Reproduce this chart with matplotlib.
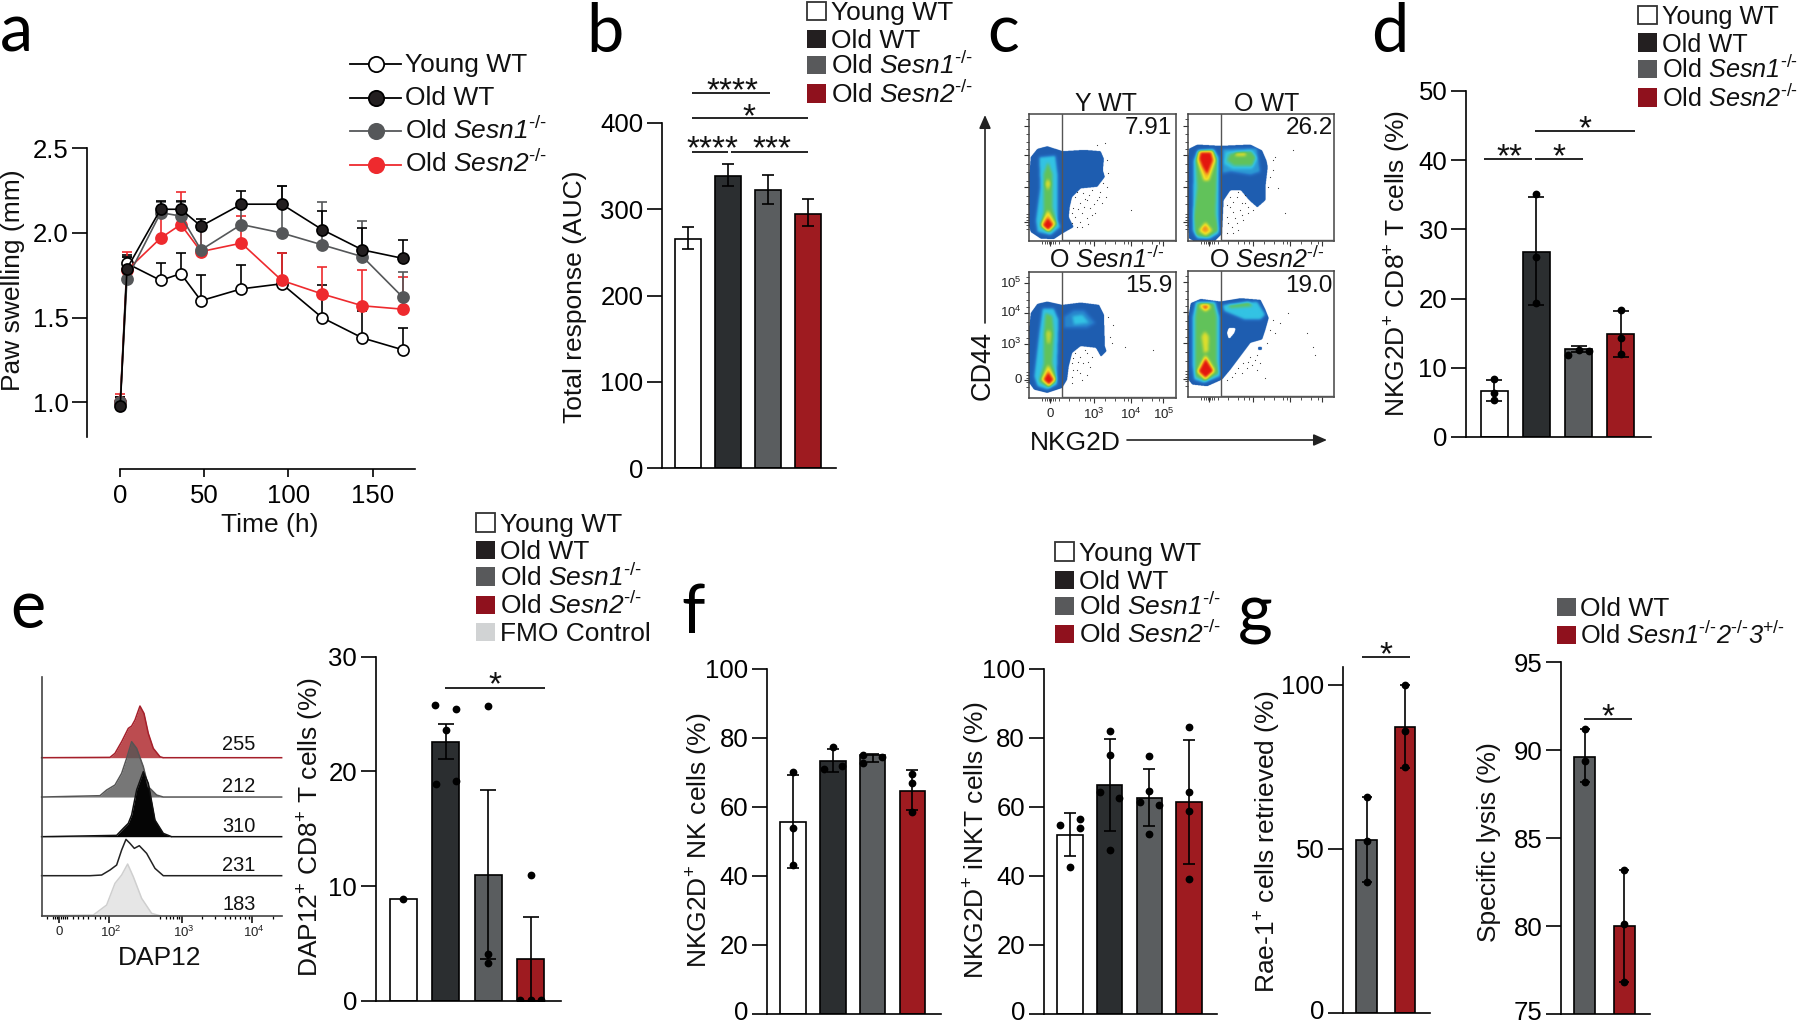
import numpy as np
import matplotlib
matplotlib.use('Agg')
import matplotlib.pyplot as plt
from matplotlib.colors import LinearSegmentedColormap
from matplotlib.path import Path
from matplotlib.patches import Rectangle
from matplotlib.transforms import ScaledTranslation

plt.rcParams['font.family'] = ['Liberation Sans', 'DejaVu Sans']
plt.rcParams['mathtext.fontset'] = 'custom'
plt.rcParams['mathtext.rm'] = 'Liberation Sans'
plt.rcParams['mathtext.it'] = 'Liberation Sans:italic'
plt.rcParams['mathtext.sf'] = 'Liberation Sans:italic'
plt.rcParams['mathtext.bf'] = 'Liberation Sans:bold'
plt.rcParams['mathtext.default'] = 'regular'

W, H = 1800, 1024
WHITE, DARK, GRAY, RED = '#ffffff', '#2b2e30', '#5a5d5f', '#9e1b20'
BAR4 = [WHITE, DARK, GRAY, RED]
BAR2 = [GRAY, RED]
SW = {'w': '#ffffff', 'k': '#231f20', 'g': '#58595b', 'r': '#8f111d', 'f': '#d1d3d4'}

L_YOUNG = 'Young WT'
L_OLD = 'Old WT'
L_S1 = r'Old $\mathsf{Sesn1}^{\text{-/-}}$'
L_S2 = r'Old $\mathsf{Sesn2}^{\text{-/-}}$'

# panel a
time_h = [0, 4, 24, 36, 48, 72, 96, 120, 144, 168]
young_mean = [1.0, 1.82, 1.72, 1.76, 1.60, 1.67, 1.70, 1.50, 1.38, 1.31]
young_top = [1.03, 1.87, 1.82, 1.88, 1.75, 1.81, 1.88, 1.69, 1.54, 1.44]
old_mean = [0.98, 1.79, 2.14, 2.14, 2.04, 2.17, 2.17, 2.02, 1.90, 1.85]
old_top = [1.03, 1.86, 2.19, 2.19, 2.08, 2.25, 2.28, 2.13, 2.03, 1.96]
s1_mean = [1.0, 1.73, 2.12, 2.10, 1.90, 2.05, 2.00, 1.93, 1.86, 1.62]
s1_top = [1.03, 1.86, 2.18, 2.18, 2.02, 2.15, 2.28, 2.18, 2.07, 1.77]
s2_mean = [1.0, 1.78, 1.97, 2.05, 1.89, 1.94, 1.72, 1.64, 1.57, 1.55]
s2_top = [1.05, 1.89, 2.14, 2.24, 2.06, 2.10, 1.88, 1.80, 1.78, 1.74]

# panel b
auc = [266, 339, 322, 295]
auc_lo = [253.6, 327, 306, 280.7]
auc_hi = [280, 353, 340, 312]

# panel d
d_val = [6.65, 26.8, 12.67, 14.84]
d_lo = [5.2, 19.07, 12.3, 11.6]
d_hi = [8.24, 34.7, 13.1, 18.2]
d_pts = [[8.33, 6.3, 5.35], [35.1, 26, 19.4], [11.85, 12.6, 12.5], [18.35, 14.26, 12]]
d_off = [[0, 0, 0], [0, 0, 0], [-0.24, 0, 0.24], [0, 0, 0]]

# panel e bars
e_val = [8.86, 22.57, 11.0, 3.63]
e_lo = [np.nan, 21.1, 3.7, 0]
e_hi = [np.nan, 24.1, 18.4, 7.35]
e_pts = [[8.9], [25.8, 25.4, 23.6, 18.9, 19.2], [25.7, 4.1, 3.3], [11, 0.1, 0.1, 0.1]]
e_off = [[0], [-0.25, 0.24, 0, -0.24, 0.24], [0, 0, 0], [0, -0.25, 0, 0.25]]

# panel f
nk_val = [55.6, 73.2, 74.9, 64.7]
nk_lo = [42.2, 70, 72.9, 59.1]
nk_hi = [69.2, 76.8, 75.4, 70.7]
nk_pts = [[70, 53.8, 43.2], [77.3, 70.9, 71.7], [75.1, 72.7, 74.4], [69.5, 66.9, 58.4]]
nk_off = [[0, 0, 0], [0, -0.235, 0.235], [-0.235, -0.235, 0.235], [0, 0, 0]]
inkt_val = [51.7, 66.2, 62.5, 61.3]
inkt_lo = [45.7, 53.1, 54.5, 43.4]
inkt_hi = [58.3, 79.6, 70.9, 79.4]
inkt_pts = [[42.5, 54.8, 56.4, 53.8], [82, 75, 47.6, 64.3, 62.5],
            [74.7, 64.5, 61.4, 60.5, 52.2], [83, 64.2, 58.8, 39.1]]
inkt_off = [[0, -0.24, 0.24, 0.24], [0, 0, 0, -0.235, 0.235],
            [0, 0, -0.235, 0.235, 0], [0, 0, 0, 0]]

# panel g
rae_val = [52.7, 87]
rae_lo = [39.8, 74.5]
rae_hi = [65.7, 100]
rae_pts = [[65.7, 52.5, 39.9], [100, 86, 75]]
lysis_val = [89.6, 80]
lysis_lo = [88.2, 76.8]
lysis_hi = [91.2, 83.2]
lysis_pts = [[91.2, 89.4, 88.2], [83.2, 80.1, 76.8]]

# panel e histograms
hist_red = [(125, 773), (330, 772), (345, 760), (365, 725), (385, 685), (395, 678), (405, 660), (420, 618),
            (432, 640), (445, 700), (460, 745), (480, 770), (490, 773), (845, 773)]
hist_gray = [(125, 891), (300, 887), (320, 870), (345, 855), (365, 820), (380, 775), (395, 725), (410, 745),
             (430, 800), (445, 860), (470, 885), (490, 891), (845, 891)]
hist_black = [(125, 1010), (350, 1006), (370, 985), (385, 970), (395, 945), (410, 870), (430, 815), (445, 850),
              (465, 960), (490, 1000), (515, 1010), (845, 1010)]
hist_open = [(125, 1127), (270, 1127), (305, 1125), (330, 1110), (350, 1095), (365, 1050), (378, 1018), (390, 1030),
             (403, 1045), (418, 1037), (440, 1060), (465, 1105), (490, 1127), (845, 1127)]
hist_fmo = [(125, 1247), (280, 1245), (320, 1215), (345, 1150), (365, 1125), (383, 1092), (400, 1130), (425, 1195),
            (455, 1240), (480, 1247)]
hist_labels = ['255', '212', '310', '231', '183']

# panel c density outlines (traced), level 0.25 light blue .. 1 red
yw_outer = [(266, 520), (270, 470), (290, 445), (320, 437), (345, 445), (367, 452), (430, 448), (480, 452), (490, 475),
            (487, 510), (493, 530), (470, 560), (420, 565), (395, 590), (388, 620), (385, 650), (400, 680), (365, 700),
            (340, 717), (300, 715), (270, 695), (266, 680)]
yw_layers = [([(295, 470), (345, 465), (352, 520), (352, 660), (360, 680), (330, 705), (290, 695), (285, 660), (298, 560)], .4),
             ([(322, 485), (335, 520), (335, 620), (350, 670), (330, 695), (300, 680), (310, 630), (310, 520)], .55),
             ([(322, 535), (330, 550), (322, 570), (314, 550)], .72),
             ([(322, 630), (345, 670), (322, 692), (300, 672)], .78),
             ([(322, 650), (340, 675), (322, 692), (305, 675)], 1.0)]
ow_outer = [(743, 470), (745, 445), (770, 432), (840, 436), (930, 432), (965, 450), (978, 480), (982, 500), (975, 560),
            (975, 600), (950, 622), (925, 600), (900, 570), (870, 570), (850, 600), (845, 700), (820, 725), (770, 727),
            (745, 715), (743, 680)]
ow_layers = [([(845, 445), (950, 442), (960, 515), (930, 525), (870, 515), (845, 520)], .3),
             ([(770, 450), (820, 445), (835, 470), (835, 700), (810, 715), (770, 715), (755, 690), (758, 480)], .4),
             ([(855, 455), (935, 450), (950, 475), (935, 505), (875, 505), (850, 490)], .42),
             ([(870, 460), (930, 452), (945, 470), (935, 495), (880, 495), (860, 480)], .55),
             ([(772, 455), (820, 450), (830, 480), (825, 640), (835, 690), (800, 712), (765, 705), (760, 650), (770, 560), (765, 480)], .55),
             ([(885, 457), (915, 457), (915, 466), (885, 466)], .75),
             ([(775, 450), (815, 450), (825, 480), (805, 540), (790, 540), (770, 480)], .78),
             ([(795, 665), (815, 690), (795, 705), (775, 690)], .78),
             ([(780, 455), (812, 455), (818, 480), (800, 525), (785, 500), (775, 475)], 1.0),
             ([(787, 678), (800, 678), (800, 692), (787, 692)], .88)]
s1_outer = [(266, 980), (270, 940), (290, 912), (320, 905), (365, 915), (420, 908), (475, 915), (490, 945), (493, 1040),
            (498, 1055), (480, 1072), (465, 1045), (420, 1040), (395, 1060), (385, 1100), (380, 1140), (365, 1165),
            (320, 1180), (280, 1170), (266, 1150)]
s1_layers = [([(370, 950), (400, 930), (430, 930), (465, 970), (440, 985), (370, 985)], .25),
             ([(395, 950), (425, 945), (445, 970), (400, 975)], .4),
             ([(305, 925), (340, 925), (355, 960), (350, 1130), (350, 1155), (320, 1170), (290, 1160), (280, 1130), (295, 1000)], .4),
             ([(315, 940), (335, 950), (340, 1000), (335, 1090), (350, 1140), (325, 1163), (295, 1145), (310, 1090), (310, 1000)], .55),
             ([(323, 990), (332, 1000), (328, 1030), (320, 1030), (316, 1000)], .68),
             ([(323, 1095), (345, 1140), (325, 1160), (303, 1140)], .78),
             ([(323, 1115), (340, 1140), (325, 1155), (308, 1140)], 1.0)]
s2_outer = [(743, 950), (750, 910), (780, 897), (840, 905), (900, 895), (960, 900), (975, 930), (985, 955), (975, 990),
            (965, 1020), (930, 1030), (900, 1070), (870, 1110), (845, 1140), (800, 1160), (755, 1155), (743, 1140)]
s2_spot = [(952, 1040), (964, 1040), (964, 1051), (952, 1051)]
s2_hole = [(865, 985), (885, 985), (880, 1000), (865, 1018), (860, 1000)]
s2_layers = [([(845, 915), (950, 905), (975, 945), (960, 960), (910, 960), (850, 935)], .4),
             ([(860, 915), (925, 905), (935, 920), (870, 925)], .55),
             ([(765, 905), (825, 905), (838, 950), (838, 1110), (840, 1130), (790, 1150), (760, 1140), (755, 1100), (755, 950)], .4),
             ([(770, 910), (820, 910), (828, 950), (828, 1080), (835, 1120), (795, 1145), (765, 1130), (765, 950)], .55),
             ([(780, 912), (805, 912), (810, 925), (795, 935), (780, 925)], .78),
             ([(793, 995), (805, 1010), (803, 1055), (790, 1060), (783, 1010)], .72),
             ([(795, 1065), (822, 1110), (795, 1140), (770, 1115)], .78),
             ([(785, 918), (803, 918), (795, 930)], 1.0),
             ([(795, 1075), (820, 1115), (795, 1135), (773, 1115)], 1.0)]

# sparse events outside the dense region
yw_dots = [(470, 435), (495, 430), (500, 480), (505, 520), (490, 550), (480, 575), (455, 570), (430, 580), (405, 590),
           (440, 600), (470, 600), (420, 610), (400, 625), (450, 625), (425, 640), (405, 650), (440, 655), (420, 665),
           (395, 670), (465, 640), (485, 610), (572, 630), (435, 598), (412, 575), (448, 585), (462, 612), (478, 590),
           (415, 628), (432, 622), (455, 645), (395, 640), (410, 680), (425, 680), (445, 672), (500, 560), (498, 590)]
ow_dots = [(1005, 470), (1060, 450), (1000, 510), (985, 560), (1015, 565), (870, 590), (890, 590), (915, 610), (870, 620),
           (900, 630), (925, 640), (860, 650), (885, 655), (910, 660), (875, 680), (895, 690), (860, 700), (1035, 640),
           (940, 630), (905, 610), (880, 605), (860, 615), (895, 575), (915, 585), (878, 635), (865, 670), (890, 670),
           (905, 645), (925, 620), (880, 700), (1000, 480), (990, 530)]
s1_dots = [(505, 950), (520, 975), (510, 1010), (555, 1040), (640, 1050), (400, 1075), (420, 1070), (440, 1060),
           (395, 1090), (430, 1090), (410, 1110), (450, 1100), (395, 1130), (425, 1140), (440, 1125), (515, 1030),
           (405, 1060), (415, 1085), (435, 1050), (455, 1070), (400, 1110), (420, 1120), (445, 1085), (395, 1150)]
s2_dots = [(1000, 960), (1020, 970), (1045, 940), (1100, 1000), (1120, 1040), (1125, 1065), (980, 1030), (950, 1065),
           (930, 1070), (910, 1090), (935, 1095), (885, 1120), (905, 1120), (975, 1135), (860, 1140), (950, 1110),
           (945, 1080), (920, 1105), (895, 1105), (875, 1130), (990, 990), (1005, 1000), (960, 1090), (925, 1085)]

fig = plt.figure(figsize=(18, 10.24), dpi=100)


def px_axes(x0, y0, x1, y1, **kw):
    return fig.add_axes([x0 / W, 1 - y1 / H, (x1 - x0) / W, (y1 - y0) / H], **kw)


def clean(ax):
    ax.spines['top'].set_visible(False)
    ax.spines['right'].set_visible(False)
    ax.spines['left'].set_linewidth(1.2)
    ax.spines['bottom'].set_linewidth(1.2)
    ax.patch.set_alpha(0)


def bar_panel(spine_x, xend, ytop, ybot, ylim, yticks, c0, step, bw, vals, lo, hi, pts, off, colors, cap=5.8):
    ax = px_axes(spine_x, ytop, xend, ybot)
    clean(ax)
    ax.set_ylim(*ylim)
    ax.set_xlim((spine_x - c0) / step, (xend - c0) / step)
    xs = np.arange(len(vals))
    ax.bar(xs, vals, width=bw / step, color=colors, edgecolor='black', linewidth=1.2, zorder=2)
    vals_a, lo_a, hi_a = np.array(vals, float), np.array(lo, float), np.array(hi, float)
    ax.errorbar(xs, vals_a, yerr=[vals_a - lo_a, hi_a - vals_a], fmt='none', ecolor='black',
                elinewidth=1.2, capsize=cap, capthick=1.2, zorder=3)
    if pts is not None:
        for i, group in enumerate(pts):
            dx = off[i] if off is not None else [0] * len(group)
            ax.plot([i + d for d in dx], group, 'o', color='black', ms=5.6, mew=0, zorder=4)
    ax.set_xticks([])
    ax.set_yticks(yticks)
    ax.tick_params(axis='y', length=10.5, width=1.2, labelsize=18.5, pad=3)
    if ybot > 1010:
        # lowest label would run past the bottom edge of the figure
        lab = ax.get_yticklabels()[0]
        lab.set_transform(lab.get_transform() + ScaledTranslation(0, 3.5 / 100, fig.dpi_scale_trans))
    return ax


# a
ax = px_axes(87.3, 148.3, 415.3, 436.7)
clean(ax)
ax.set_ylim(0.797, 2.5)
ax.set_xlim(-19.6, 175.4)
series_a = [(young_mean, young_top, 'black', 'white'), (s2_mean, s2_top, '#ee2a2e', '#ee2a2e'),
            (s1_mean, s1_top, '#555759', '#555759'), (old_mean, old_top, 'black', '#231f20')]
for mean, top, col, face in series_a:
    m = np.array(mean)
    ax.errorbar(time_h, mean, yerr=[np.zeros(len(m)), np.array(top) - m], fmt='none', ecolor=col,
                elinewidth=1.2, capsize=3.6, capthick=1.2, zorder=2)
    ax.plot(time_h, mean, '-o', color=col, mfc=face, mec=col, ms=8, mew=1.2, lw=1.2, zorder=3, clip_on=False)
ax.spines['bottom'].set_position(('outward', 23.3))
ax.spines['bottom'].set_bounds(0, 175)
ax.set_xticks([0, 50, 100, 150])
ax.set_yticks([1.0, 1.5, 2.0, 2.5])
ax.tick_params(axis='y', length=10.5, width=1.2, labelsize=18.5, pad=3)
ax.tick_params(axis='x', length=6, width=1.2, labelsize=18.5, pad=5)

# b
bar_panel(662, 835.7, 123, 468, (0, 400), [0, 100, 200, 300, 400], 688, 40, 26, auc, auc_lo, auc_hi,
          None, None, BAR4, cap=4.5)
# d
bar_panel(1466, 1651, 91, 437, (0, 50), [0, 10, 20, 30, 40, 50], 1494, 42.3, 27, d_val, d_lo, d_hi,
          d_pts, d_off, BAR4)
# e bars
bar_panel(375.7, 560.7, 656.7, 1001, (0, 30), [0, 10, 20, 30], 403.3, 42.4, 27, e_val, e_lo, e_hi,
          e_pts, e_off, BAR4)
# f
bar_panel(767, 940.7, 668.7, 1014, (0, 100), [0, 20, 40, 60, 80, 100], 793.2, 39.7, 25.5, nk_val, nk_lo, nk_hi,
          nk_pts, nk_off, BAR4, cap=4.6)
bar_panel(1043.7, 1217.5, 668.7, 1014, (0, 100), [0, 20, 40, 60, 80, 100], 1070, 39.7, 25.5, inkt_val, inkt_lo, inkt_hi,
          inkt_pts, inkt_off, BAR4, cap=4.6)
# g
bar_panel(1343, 1430, 666.7, 1013, (0, 105.5), [0, 50, 100], 1366.5, 38.3, 20.5, rae_val, rae_lo, rae_hi,
          rae_pts, None, BAR2, cap=3.6)
bar_panel(1561, 1650, 662.3, 1014, (75, 95), [75, 80, 85, 90, 95], 1584.8, 39.3, 21, lysis_val, lysis_lo, lysis_hi,
          lysis_pts, None, BAR2, cap=3.6)


# c: flow plots
def blur(a, n):
    k = np.hanning(n + 2)[1:-1]
    k = k / k.sum()
    pad = n
    b = np.pad(a, pad, mode='edge')
    b = np.apply_along_axis(lambda r: np.convolve(r, k, mode='same'), 0, b)
    b = np.apply_along_axis(lambda r: np.convolve(r, k, mode='same'), 1, b)
    return b[pad:-pad, pad:-pad]


flow_cmap = LinearSegmentedColormap.from_list('flow', [(0, '#1b52a4'), (.2, '#2470c4'), (.4, '#33c3e4'), (.55, '#62c25a'),
                                                       (.75, '#f3e324'), (.88, '#f28a1e'), (1, '#e3170f')])
flow_cmap.set_bad((1, 1, 1, 0))


def flow_plot(x0, y0, x1, y1, outer, layers, dots, gate, extra=None, hole=None):
    ax = px_axes(940 + x0 / 3, y0 / 3, 940 + x1 / 3, y1 / 3)
    xx, yy = np.meshgrid(np.arange(x0, x1), np.arange(y0, y1))
    grid = np.column_stack([xx.ravel(), yy.ravel()])
    mask = Path(outer + outer[:1]).contains_points(grid).reshape(xx.shape).astype(float)
    level = np.full(xx.shape, 0.08)
    for poly, lev in layers:
        level[Path(poly + poly[:1]).contains_points(grid).reshape(xx.shape)] = lev
    if extra is not None:
        mask[Path(extra + extra[:1]).contains_points(grid).reshape(xx.shape)] = 1
    if hole is not None:
        mask[Path(hole + hole[:1]).contains_points(grid).reshape(xx.shape)] = 0
    level = blur(level, 21)
    mask = blur(mask, 11)
    im = np.ma.array(level, mask=mask < 0.5)
    ax.imshow(im, cmap=flow_cmap, vmin=0, vmax=1, extent=(x0, x1, y1, y0), aspect='auto',
              interpolation='bilinear', zorder=1)
    dx, dy = zip(*dots)
    ax.scatter(dx, dy, s=0.7, color='#333333', linewidths=0, zorder=1)
    ax.plot([gate, gate, x1], [y0, y1 - 3, y1 - 3], color='#555555', lw=1, zorder=3)
    ax.set_xlim(x0, x1)
    ax.set_ylim(y1, y0)
    for s in ax.spines.values():
        s.set_linewidth(1.1)
        s.set_color('#444444')
    ax.set_xticks([x0 + d for d in (64, 196, 306, 404)])
    ax.set_yticks([y0 + d for d in (35, 123, 218, 325)])
    ax.set_xticks([x0 + d for d in (40, 50, 56, 60, 68, 72, 78, 90, 120, 150, 170, 185, 230, 260, 285, 297, 340, 370, 390)], minor=True)
    ax.set_yticks([y0 + d for d in (15, 60, 85, 105, 150, 175, 200, 245, 270, 300, 310, 318, 332, 345)], minor=True)
    ax.tick_params(which='major', length=3.5, width=.8, labelleft=False, labelbottom=False, color='#333333')
    ax.tick_params(which='minor', length=2, width=.6, color='#333333')
    return ax


flow_plot(266, 342, 708, 722, yw_outer, yw_layers, yw_dots, 367)
flow_plot(743, 342, 1183, 722, ow_outer, ow_layers, ow_dots, 842)
flow_plot(266, 815, 708, 1195, s1_outer, s1_layers, s1_dots, 367)
flow_plot(743, 812, 1183, 1192, s2_outer, s2_layers, s2_dots, 842, extra=s2_spot, hole=s2_hole)

# e: histograms
ax = px_axes(42.3, 676.7, 282.3, 915.7)
clean(ax)
ax.set_xlim(127, 847)
ax.set_ylim(1247, 530)
hist_styles = [(hist_red, '#b5383d', '#a51f2a', .9), (hist_gray, '#555555', '#555555', .8),
               (hist_black, '#050505', '#111111', 1), (hist_open, 'none', '#222222', 1),
               (hist_fmo, '#e6e6e6', '#cfcfcf', 1)]
for hist, face, line, alpha in hist_styles:
    hx, hy = zip(*hist)
    ax.fill_between(hx, hy, hy[-1], color=face, alpha=alpha, linewidth=0, clip_on=False)
    ax.plot(hx, hy, color=line, lw=1.1, clip_on=False)
ax.spines['left'].set_color('#444444')
ax.spines['bottom'].set_color('#444444')
ax.set_yticks([])
ax.set_xticks([178, 328, 545, 757])
ax.set_xticks([140, 158, 165, 172, 184, 190, 196, 202, 220, 235, 250, 265, 285, 300, 315, 480, 498, 510, 520, 530, 538,
               605, 645, 675, 690, 705, 720, 735, 748, 820], minor=True)
ax.tick_params(axis='x', which='major', length=5, width=1.1, labelbottom=False)
ax.tick_params(axis='x', which='minor', length=2.5, width=.9)

# overlay in picture pixels for labels, legends, significance bars
ov = fig.add_axes([0, 0, 1, 1], zorder=20)
ov.set_xlim(0, W)
ov.set_ylim(H, 0)
ov.axis('off')


def legend(x, text_x, baselines, labels, keys, fs=19):
    for y, lab, key in zip(baselines, labels, keys):
        ec = '#333333' if key == 'w' else 'none'
        ov.add_patch(Rectangle((x, y - 18.5), 19, 18.5, fc=SW[key], ec=ec, lw=1.3))
        ov.text(text_x, y, lab, fontsize=fs, va='baseline', ha='left', color='#111111')


def sig(x0, x1, y, stars, sx, sy):
    ov.plot([x0, x1], [y, y], color='black', lw=1.2, solid_capstyle='butt')
    ov.text(sx, sy + 19.5, stars, fontsize=24, ha='center', va='baseline', color='#111111')


def ylab(x, y, s):
    ov.text(x, y, s, rotation=90, fontsize=19, ha='center', va='center', color='#111111')


def base(x, y, s, fs=19, ha='center', **kw):
    ov.text(x, y, s, fontsize=fs, ha=ha, va='baseline', color=kw.pop('color', '#111111'), **kw)


# panel letters
letters = [('a', 0, 51.7), ('b', 586.7, 51.7), ('c', 987, 51.7), ('d', 1370.7, 51.7),
           ('e', 10, 628), ('f', 681.7, 633), ('g', 1238, 632.7)]
for s, x, y in letters:
    ov.text(x, y, s, fontsize=48, family='Lato', ha='left', va='baseline', color='black')

# a legend
a_legend = [(64.3, L_YOUNG, 'black', 'white'), (97.7, L_OLD, 'black', '#231f20'),
            (131.3, L_S1, '#555759', '#555759'), (165, L_S2, '#ee2a2e', '#ee2a2e')]
for y, lab, col, face in a_legend:
    ov.plot([350, 401], [y, y], color=col, lw=1.3)
    ov.plot([375.7], [y], 'o', color=col, mfc=face, mec=col, ms=11, mew=1.3)
    ov.text(405, y + 7.5, lab, fontsize=19, va='baseline', ha='left', color='#111111')

ylab(12.7, 280, 'Paw swelling (mm)')
base(269.3, 531.7, 'Time (h)')

# b
legend(807, 831, [20, 48, 74, 102.7], [L_YOUNG, L_OLD, L_S1, L_S2], 'wkgr')
ylab(575, 296.7, 'Total response (AUC)')
sig(692, 770, 93, '****', 732.7, 80.7)
sig(692, 808, 118.3, '*', 749, 106.7)
sig(692, 727.7, 152, '****', 712.7, 139)
sig(731, 808, 152, '***', 771.7, 139)

# c
base(1105.7, 111, 'Y WT', fs=18)
base(1266.7, 111, 'O WT', fs=18)
base(1106.7, 268, r'O $\mathsf{Sesn1}^{\text{-/-}}$', fs=18)
base(1266.7, 268, r'O $\mathsf{Sesn2}^{\text{-/-}}$', fs=18)
c_numbers = [(1172, 134, '7.91'), (1332.7, 134, '26.2'), (1172, 292, '15.9'), (1332.7, 292, '19.0')]
for x, y, s in c_numbers:
    base(x, y, s, fs=17.5, ha='right')
ov.annotate('', xy=(985, 115), xytext=(985, 323),
            arrowprops=dict(arrowstyle='-|>,head_width=0.35,head_length=0.8', color='#222222', lw=1.2, shrinkA=0, shrinkB=0))
ov.annotate('', xy=(1327, 440), xytext=(1127, 440),
            arrowprops=dict(arrowstyle='-|>,head_width=0.35,head_length=0.8', color='#222222', lw=1.2, shrinkA=0, shrinkB=0))
ov.text(983, 366, 'CD44', rotation=90, fontsize=19.5, ha='center', va='center', color='#111111')
base(1075, 450, 'NKG2D', fs=19)
c_ylabs = [(283, '$10^{5}$'), (312.7, '$10^{4}$'), (344.3, '$10^{3}$'), (380, '0')]
for y, s in c_ylabs:
    ov.text(1021.5, y, s, fontsize=9.5, ha='right', va='center', color='#222222')
c_xlabs = [(1050, '0'), (1094, '$10^{3}$'), (1130.7, '$10^{4}$'), (1163.3, '$10^{5}$')]
for x, s in c_xlabs:
    ov.text(x, 414, s, fontsize=9.5, ha='center', va='center', color='#222222')

# d
legend(1638, 1661.7, [24, 51.7, 78.3, 106.7], [L_YOUNG, L_OLD, L_S1, L_S2], 'wkgr', fs=18.2)
ylab(1398.3, 263.3, r'NKG2D$^{+}$ CD8$^{+}$ T cells (%)')
sig(1484.3, 1532, 159, '**', 1509, 146.7)
sig(1535.3, 1583, 159, '*', 1559.3, 146.7)
sig(1535.3, 1635.3, 131, '*', 1585, 118.7)

# e
legend(476, 500, [531.7, 559.3, 585.7, 614, 641.3], [L_YOUNG, L_OLD, L_S1, L_S2, 'FMO Control'], 'wkgrf')
ylab(310.7, 827.5, r'DAP12$^{+}$ CD8$^{+}$ T cells (%)')
sig(445.3, 545.3, 688, '*', 494.7, 675)
e_baselines = [750, 792, 832, 870.7, 910]
for y, s in zip(e_baselines, hist_labels):
    base(239, y, s, fs=14.4)
e_xlabs = [(59, '0'), (111, '$10^{2}$'), (184, '$10^{3}$'), (254, '$10^{4}$')]
for x, s in e_xlabs:
    ov.text(x, 932, s, fontsize=9.5, ha='center', va='center', color='#222222')
base(160, 965, 'DAP12', fs=19)

# f
legend(1055, 1079, [560.7, 589, 615, 643], [L_YOUNG, L_OLD, L_S1, L_S2], 'wkgr')
ylab(700, 840, r'NKG2D$^{+}$ NK cells (%)')
ylab(976.7, 840, r'NKG2D$^{+}$ iNKT cells (%)')

# g
legend(1556.7, 1580, [616], [L_OLD], 'g')
legend(1556.7, 1580, [644], [r'Old $\mathsf{Sesn1}^{\text{-/-}}\mathsf{2}^{\text{-/-}}\mathsf{3}^{\text{+/-}}$'], 'r', fs=18.3)
ylab(1268.3, 841.7, r'Rae-1$^{+}$ cells retrieved (%)')
ylab(1489.3, 841.7, 'Specific lysis (%)')
sig(1362, 1410, 657, '*', 1386, 644.3)
sig(1584, 1632, 718.7, '*', 1608.3, 706.7)

fig.savefig('out.png', dpi=100)
plt.close('all')
